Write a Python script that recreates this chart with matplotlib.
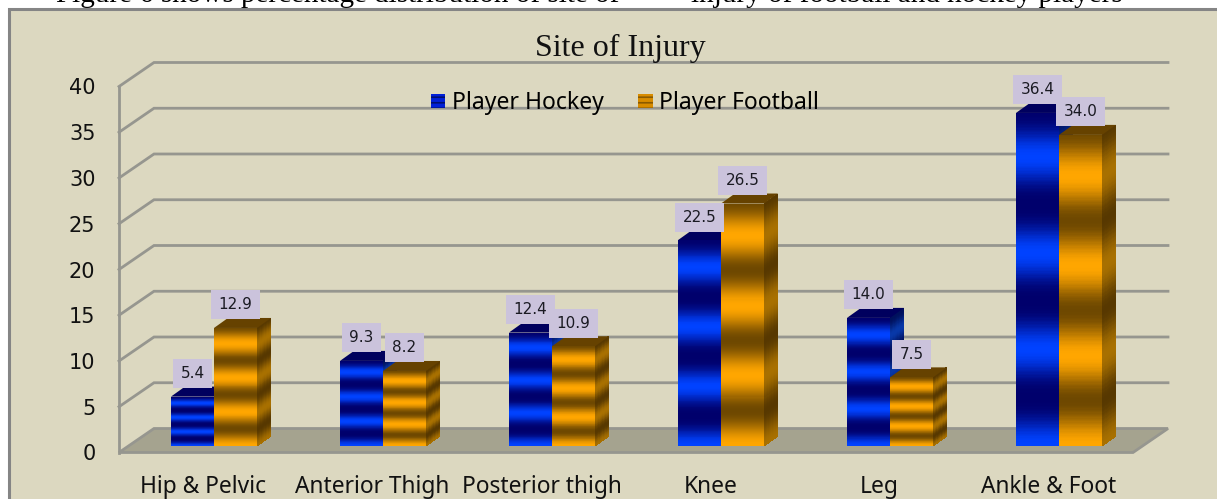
import numpy as np
import matplotlib
matplotlib.use('Agg')
import matplotlib.pyplot as plt
from matplotlib.colors import LinearSegmentedColormap
from matplotlib.patches import Patch, Polygon, Rectangle

categories = ['Hip & Pelvic', 'Anterior Thigh', 'Posterior thigh', 'Knee', 'Leg', 'Ankle & Foot']
hockey = [5.4, 9.3, 12.4, 22.5, 14.0, 36.4]
football = [12.9, 8.2, 10.9, 26.5, 7.5, 34.0]
yticks = [0, 5, 10, 15, 20, 25, 30, 35, 40]
caption_left = 'Figure 6 shows percentage distribution of site of'
caption_right = 'injury of football and hockey players'

W, H = 1217, 499
BG = '#dcd8c0'
GRID = '#96968f'
FLOOR = '#a5a38f'
LABEL_BG = '#cbc3dc'

plt.rcParams['hatch.linewidth'] = 1.2

fig = plt.figure(figsize=(W / 100, H / 100), dpi=100, facecolor='white')
fig.add_artist(Rectangle((8.5 / W, -0.1), 1.1, 1.1 - 9.5 / H, transform=fig.transFigure,
                         fc=BG, ec='#858585', lw=2.2, zorder=-5))
# line of body text above the chart, only its lower edge is in the crop
fig.text(56 / W, 1 - 1.5 / H, caption_left, family='Liberation Serif', fontsize=21, va='baseline',
         color='black', zorder=-6)
fig.text(691 / W, 1 - 1.5 / H, caption_right, family='Liberation Serif', fontsize=21, va='baseline',
         color='black', zorder=-6)

# axes = front plane of the 3d box
ax = fig.add_axes([119 / W, (H - 452.5) / H, 1014 / W, 366 / H])
ax.set_xlim(0, 6)
ax.set_ylim(0, 40)
ax.patch.set_alpha(0)
for s in ax.spines.values():
    s.set_visible(False)

px = 6 / 1014   # data units per pixel, x
py = 40 / 366   # same, y
wall_dx, wall_dy = 35 * px, 24 * py
side_dx, side_dy = 14 * px, 10 * py
bar_w = 43 * px
bar_off = 52 * px
base = 6.5 * py

# floor and walls
ax.add_patch(Polygon([(0, 0), (wall_dx, wall_dy), (6 + wall_dx, wall_dy), (6, 0)],
                     fc=FLOOR, ec=GRID, lw=2, clip_on=False, zorder=1, joinstyle='miter'))
ax.plot([0, 0], [0, 40], color=GRID, lw=2, clip_on=False, zorder=2)
for t in yticks[1:]:
    ax.plot([0, wall_dx, 6 + wall_dx], [t, t + wall_dy, t + wall_dy], color=GRID, lw=2,
            clip_on=False, zorder=2, solid_joinstyle='miter')

blue = LinearSegmentedColormap.from_list('b', ['#00006c', '#0042ff'])
blue_side = LinearSegmentedColormap.from_list('bs', ['#00105c', '#0838a8'])
orange = LinearSegmentedColormap.from_list('o', ['#6e4800', '#ffa600'])
orange_side = LinearSegmentedColormap.from_list('os', ['#573800', '#a87000'])


def stripes(n, power):
    f = np.linspace(0, 1, n)
    return (0.5 + 0.5 * np.cos(2 * np.pi * f / 0.29)) ** power


def draw_bar(x0, val, cmap, cmap_side, top_col, power):
    n = 240
    y = base + np.linspace(0, val, n + 1)
    c = stripes(n, power).reshape(-1, 1)
    # front face
    xx = np.array([[x0, x0 + bar_w]] * (n + 1))
    yy = np.column_stack([y, y])
    ax.pcolormesh(xx, yy, c, cmap=cmap, vmin=0, vmax=1, shading='flat', zorder=4,
                  clip_on=False, antialiased=False, linewidth=0)
    # side face
    xr = x0 + bar_w
    xx = np.array([[xr, xr + side_dx]] * (n + 1))
    yy = np.column_stack([y, y + side_dy])
    ax.pcolormesh(xx, yy, c, cmap=cmap_side, vmin=0, vmax=1, shading='flat', zorder=3,
                  clip_on=False, antialiased=False, linewidth=0)
    # top face
    t = base + val
    ax.add_patch(Polygon([(x0, t), (x0 + side_dx, t + side_dy), (xr + side_dx, t + side_dy), (xr, t)],
                         fc=top_col, ec='none', zorder=3.5, clip_on=False))


def draw_label(xc, val):
    w = (39 if val < 10 else 49) * px
    h = 29 * py
    y0 = base + val + 8.5 * py
    ax.add_patch(Rectangle((xc - w / 2, y0), w, h, fc=LABEL_BG, ec='none', zorder=6, clip_on=False))
    ax.text(xc, y0 + h / 2, '%.1f' % val, ha='center', va='center', fontsize=11, color='#1a1a22',
            zorder=7, clip_on=False)


for i in range(len(categories)):
    xb = i + bar_off
    draw_bar(xb, hockey[i], blue, blue_side, '#00005e', 1.4)
    draw_bar(xb + bar_w, football[i], orange, orange_side, '#664200', 1.0)
for i in range(len(categories)):
    xb = i + bar_off
    draw_label(xb + bar_w / 2, hockey[i])
    draw_label(xb + bar_w * 1.5, football[i])

ax.set_yticks(yticks)
ax.set_yticklabels([str(t) for t in yticks], fontsize=15, color='#111111')
ax.set_xticks(np.arange(len(categories)) + 0.5)
ax.set_xticklabels(categories, family='Noto Sans', fontsize=16.4, color='#111111')
ax.tick_params(axis='y', length=0, pad=17)
ax.tick_params(axis='x', length=0, pad=16)

fig.text(620 / W, 1 - 48 / H, 'Site of Injury', family='Liberation Serif', fontsize=23,
         ha='center', va='center', color='#111111')

handles = [Patch(fc='#0020d8', ec='#000f70', hatch='---', lw=0),
           Patch(fc='#d88c00', ec='#8a5a00', hatch='---', lw=0)]
leg = fig.legend(handles, ['Player Hockey', 'Player Football'], loc='center left',
                 bbox_to_anchor=(431 / W, 1 - 103 / H), ncol=2, frameon=False,
                 prop={'family': 'Noto Sans', 'size': 16.5}, handlelength=0.62, handleheight=0.62,
                 handletextpad=0.3, columnspacing=1.5, borderpad=0, borderaxespad=0)

fig.savefig('out.png', dpi=100, facecolor='white')
